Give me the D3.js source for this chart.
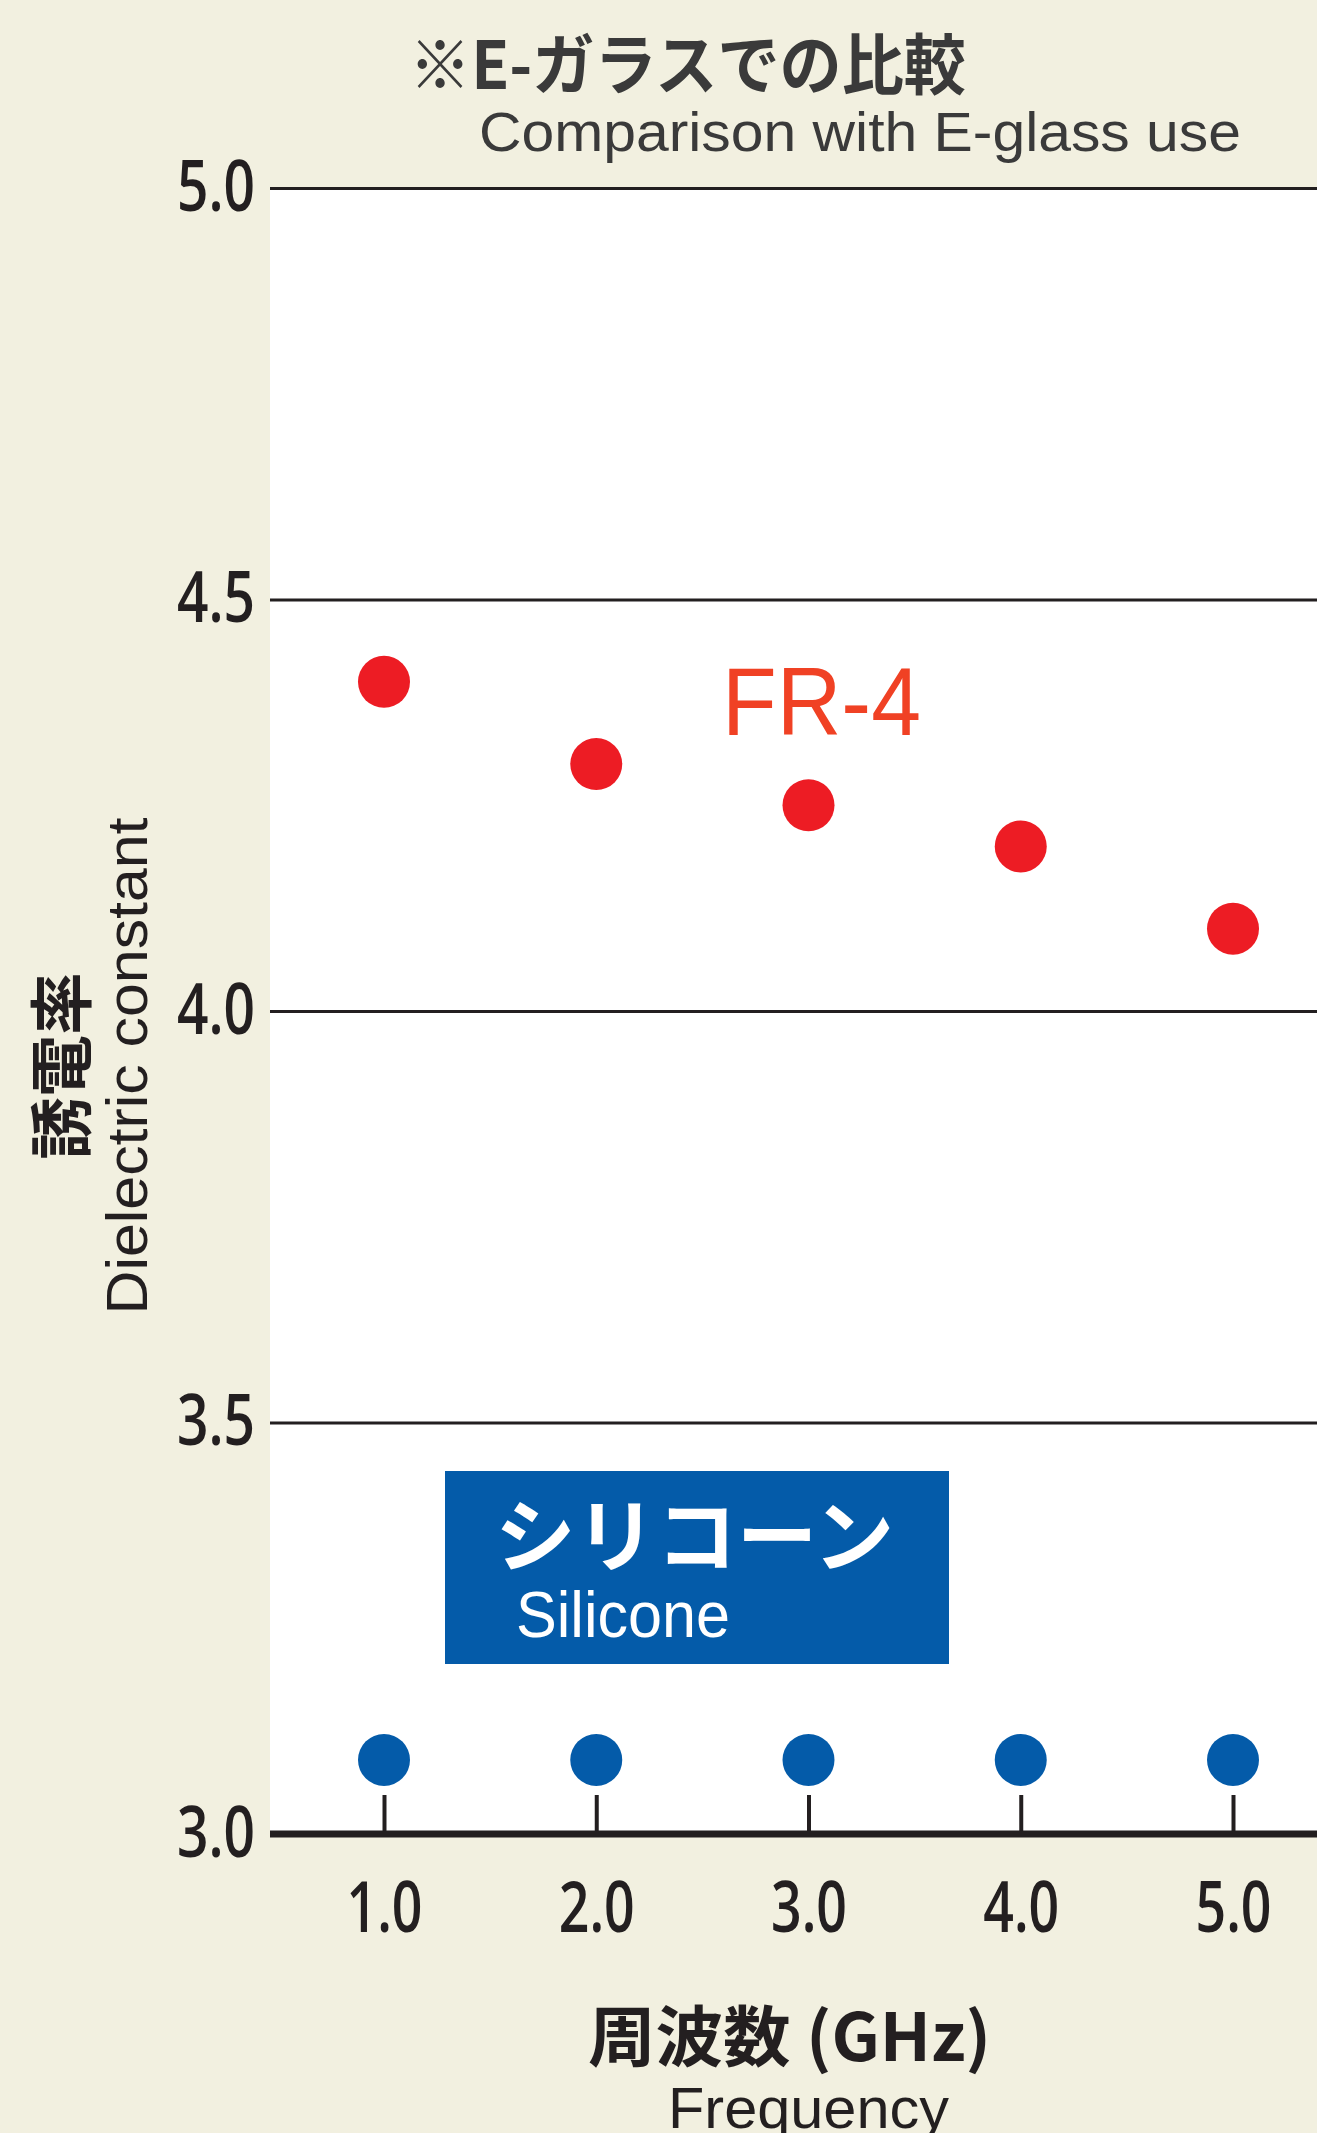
<!DOCTYPE html>
<html>
<head>
<meta charset="utf-8">
<script src="https://cdn.jsdelivr.net/npm/d3@7"></script>
<style>
  html, body { margin: 0; padding: 0; background: #f2f0e0; }
  svg { display: block; }
</style>
</head>
<body>
<svg id="chart"></svg>
<script>
// values
const freqs = [1.0, 2.0, 3.0, 4.0, 5.0];
const fr4 = [4.4, 4.3, 4.25, 4.2, 4.1];
const silicone = [3.09, 3.09, 3.09, 3.09, 3.09];
const yTicks = [3.0, 3.5, 4.0, 4.5, 5.0];
const xTicks = [1.0, 2.0, 3.0, 4.0, 5.0];

const titleJa = '※E-ガラスでの比較';
const titleEn = 'Comparison with E-glass use';
const yTitleJa = '誘電率';
const yTitleEn = 'Dielectric constant';
const xTitleJa = '周波数 (GHz)';
const xTitleEn = 'Frequency';
const fr4Label = 'FR-4';
const siliconeJa = 'シリコーン';
const siliconeEn = 'Silicone';

const width = 1317, height = 2133;
const margin = { top: 188, right: 0, bottom: 299, left: 270 };
const ink = '#231f20';
const numFont = '"Open Sans", "DejaVu Sans", sans-serif';
const latinFont = '"Liberation Sans", Arial, sans-serif';
const cjkFont = '"Noto Sans CJK JP", "Noto Sans", sans-serif';

const svg = d3.select('#chart').attr('width', width).attr('height', height);

svg.append('rect')
  .attr('width', width).attr('height', height)
  .attr('fill', '#f2f0e0');

const x = d3.scaleLinear().domain([1, 5]).range([384, 1233]);
const y = d3.scaleLinear().domain([3, 5]).range([height - margin.bottom, margin.top]);

// white plot area
svg.append('rect')
  .attr('x', margin.left)
  .attr('y', y(5))
  .attr('width', width - margin.left - margin.right)
  .attr('height', y(3) - y(5))
  .attr('fill', '#fff');

// titles
svg.append('text')
  .attr('x', 409).attr('y', 89)
  .attr('textLength', 557).attr('lengthAdjust', 'spacingAndGlyphs')
  .attr('font-family', cjkFont).attr('font-weight', 700)
  .attr('font-size', 66).attr('fill', '#3a3a3a')
  .text(titleJa);

svg.append('text')
  .attr('x', 479).attr('y', 151)
  .attr('textLength', 762).attr('lengthAdjust', 'spacingAndGlyphs')
  .attr('font-family', latinFont)
  .attr('font-size', 56).attr('fill', '#3a3a3a')
  .text(titleEn);

// y axis with gridlines
const yAxis = d3.axisLeft(y)
  .tickValues(yTicks)
  .tickFormat(d3.format('.1f'))
  .tickSize(-(width - margin.left - margin.right))
  .tickPadding(15);

const yAxisG = svg.append('g')
  .attr('transform', `translate(${margin.left},0)`)
  .call(yAxis);
yAxisG.select('.domain').remove();
yAxisG.selectAll('.tick line').attr('stroke', ink).attr('stroke-width', 3);
yAxisG.selectAll('.tick text')
  .attr('dy', 22)
  .attr('font-family', numFont)
  .attr('font-weight', 600)
  .attr('font-size', 71)
  .attr('fill', ink)
  .attr('textLength', 78).attr('lengthAdjust', 'spacingAndGlyphs');

// x axis: ticks standing up from a thick base line
const xAxis = d3.axisBottom(x)
  .tickValues(xTicks)
  .tickFormat(d3.format('.1f'))
  .tickSize(-39)
  .tickSizeOuter(0);

const xAxisG = svg.append('g')
  .attr('transform', `translate(0,${y(3)})`)
  .call(xAxis);
xAxisG.select('.domain').remove();
xAxisG.selectAll('.tick line').attr('stroke', ink).attr('stroke-width', 4);
xAxisG.selectAll('.tick text')
  .attr('y', 98).attr('dy', 0)
  .attr('font-family', numFont)
  .attr('font-weight', 600)
  .attr('font-size', 71)
  .attr('fill', ink)
  .attr('textLength', 76).attr('lengthAdjust', 'spacingAndGlyphs');

svg.append('line')
  .attr('x1', margin.left).attr('x2', width - margin.right)
  .attr('y1', y(3)).attr('y2', y(3))
  .attr('stroke', ink).attr('stroke-width', 7);

// axis titles
svg.append('text')
  .attr('transform', `translate(85,1066) rotate(-90)`)
  .attr('text-anchor', 'middle')
  .attr('textLength', 187).attr('lengthAdjust', 'spacingAndGlyphs')
  .attr('font-family', cjkFont).attr('font-weight', 700)
  .attr('font-size', 64).attr('fill', ink)
  .text(yTitleJa);

svg.append('text')
  .attr('transform', `translate(147,1066) rotate(-90)`)
  .attr('text-anchor', 'middle')
  .attr('textLength', 497).attr('lengthAdjust', 'spacingAndGlyphs')
  .attr('font-family', latinFont)
  .attr('font-size', 58).attr('fill', ink)
  .text(yTitleEn);

svg.append('text')
  .attr('x', 588).attr('y', 2061)
  .attr('textLength', 403).attr('lengthAdjust', 'spacingAndGlyphs')
  .attr('font-family', cjkFont).attr('font-weight', 700)
  .attr('font-size', 66).attr('fill', ink)
  .text(xTitleJa);

svg.append('text')
  .attr('x', 668).attr('y', 2128)
  .attr('textLength', 281).attr('lengthAdjust', 'spacingAndGlyphs')
  .attr('font-family', latinFont)
  .attr('font-size', 58).attr('fill', ink)
  .text(xTitleEn);

// FR-4 series
svg.append('g')
  .selectAll('circle')
  .data(freqs.map((f, i) => ({ f, v: fr4[i] })))
  .join('circle')
  .attr('cx', d => x(d.f))
  .attr('cy', d => y(d.v))
  .attr('r', 26)
  .attr('fill', '#ed1c24');

svg.append('text')
  .attr('x', 722).attr('y', 735)
  .attr('textLength', 199).attr('lengthAdjust', 'spacingAndGlyphs')
  .attr('font-family', latinFont)
  .attr('font-size', 96).attr('fill', '#f04124')
  .text(fr4Label);

// silicone series
svg.append('g')
  .selectAll('circle')
  .data(freqs.map((f, i) => ({ f, v: silicone[i] })))
  .join('circle')
  .attr('cx', d => x(d.f))
  .attr('cy', d => y(d.v))
  .attr('r', 26)
  .attr('fill', '#045ba9');

svg.append('rect')
  .attr('x', 445).attr('y', 1471)
  .attr('width', 504).attr('height', 193)
  .attr('fill', '#045ba9');

svg.append('text')
  .attr('x', 495).attr('y', 1565)
  .attr('textLength', 399).attr('lengthAdjust', 'spacingAndGlyphs')
  .attr('font-family', cjkFont).attr('font-weight', 700)
  .attr('font-size', 80).attr('fill', '#fff')
  .text(siliconeJa);

svg.append('text')
  .attr('x', 516).attr('y', 1637)
  .attr('textLength', 214).attr('lengthAdjust', 'spacingAndGlyphs')
  .attr('font-family', latinFont)
  .attr('font-size', 65).attr('fill', '#fff')
  .text(siliconeEn);
</script>
</body>
</html>
